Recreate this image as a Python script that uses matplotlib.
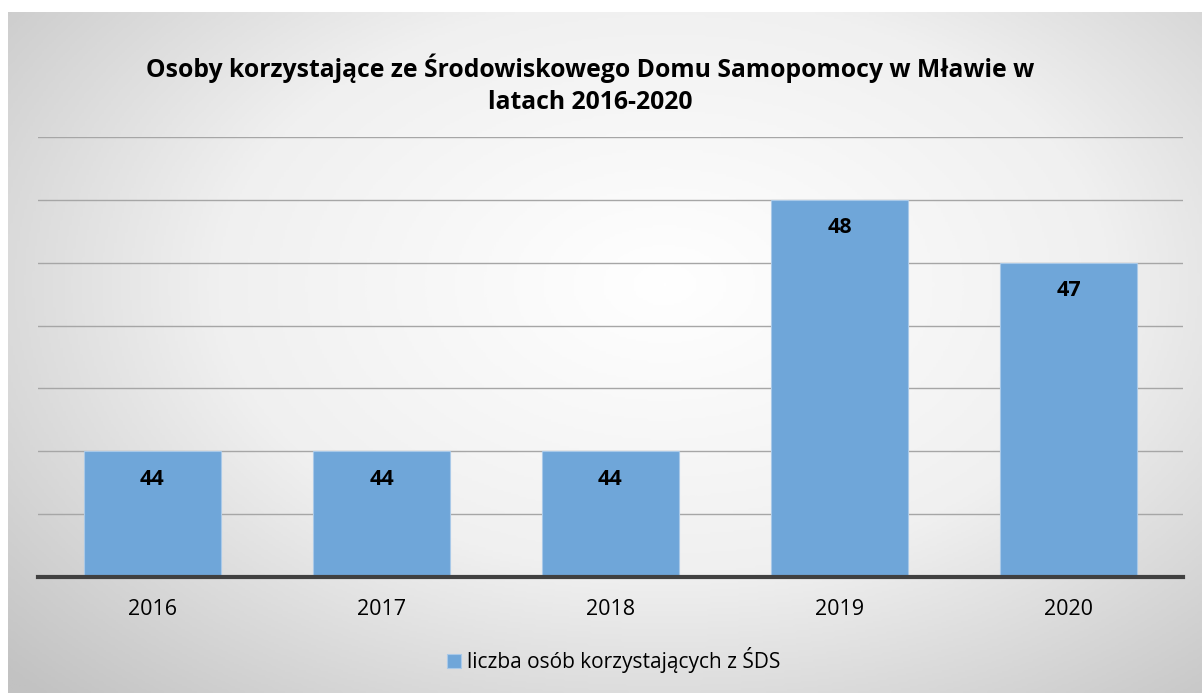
import numpy as np
import matplotlib.pyplot as plt
from matplotlib.colors import LinearSegmentedColormap

years = ['2016', '2017', '2018', '2019', '2020']
counts = [44, 44, 44, 48, 47]
series_name = 'liczba osób korzystających z ŚDS'
title = 'Osoby korzystające ze Środowiskowego Domu Samopomocy w Mławie w\nlatach 2016-2020'

plt.rcParams['font.family'] = ['Open Sans', 'DejaVu Sans']

W, H = 1202, 693
fig = plt.figure(figsize=(W / 100, H / 100), dpi=100)
fig.patch.set_facecolor('white')

# radial gradient background of the chart area
bg = fig.add_axes([8 / W, 0, 1 - 8 / W, 1 - 12 / H])
bg.set_axis_off()
yy, xx = np.mgrid[0:1:300j, 0:1:500j]
r = np.sqrt(((xx - 0.55) / 0.75) ** 2 + ((yy - 0.40) / 0.85) ** 2)
r = np.clip(r, 0, 1)
cmap = LinearSegmentedColormap.from_list('bg', ['#ffffff', '#f0f0f0', '#c2c2c2'])
bg.imshow(r, cmap=cmap, aspect='auto', extent=[0, 1, 1, 0], vmin=0, vmax=1)
bg.set_xlim(0, 1)
bg.set_ylim(1, 0)

# plot area: x 38..1183, y 137..577 (px)
ax = fig.add_axes([38 / W, 1 - 577 / H, (1183 - 38) / W, (577 - 137) / H])
ax.patch.set_alpha(0)
x = np.arange(len(years))
bars = ax.bar(x, counts, width=0.6, color='#6fa6d9', edgecolor='#a9c9e8', linewidth=0.8, zorder=3)
ax.set_ylim(42, 49)
ax.set_xlim(-0.5, len(years) - 0.5)
ax.set_yticks(np.arange(42, 50, 1))
ax.yaxis.grid(True, color='#a6a6a6', linewidth=1, zorder=0)
ax.tick_params(axis='y', left=False, labelleft=False)
ax.tick_params(axis='x', bottom=False, labelsize=15.5, pad=12, colors='#000000')
ax.set_xticks(x)
ax.set_xticklabels(years)
for s in ['top', 'right', 'left']:
    ax.spines[s].set_visible(False)
ax.spines['bottom'].set_color('#404040')
ax.spines['bottom'].set_linewidth(3)
ax.spines['bottom'].set_zorder(4)

for xi, v in zip(x, counts):
    ax.annotate(str(v), (xi, v), xytext=(0, -20), textcoords='offset points',
                ha='center', va='center', fontsize=15.5, fontweight='bold', color='#000000', zorder=5)

fig.text(590 / W, 1 - 84 / H, title, ha='center', va='center', fontsize=17.8,
         fontweight='bold', linespacing=1.35, color='#000000')

leg = ax.legend([bars[0]], [series_name], loc='center', bbox_to_anchor=(614 / W, 1 - 660 / H),
                bbox_transform=fig.transFigure, frameon=False, fontsize=15,
                handlelength=0.65, handleheight=0.65, handletextpad=0.3)

fig.savefig('out.png', dpi=100)
